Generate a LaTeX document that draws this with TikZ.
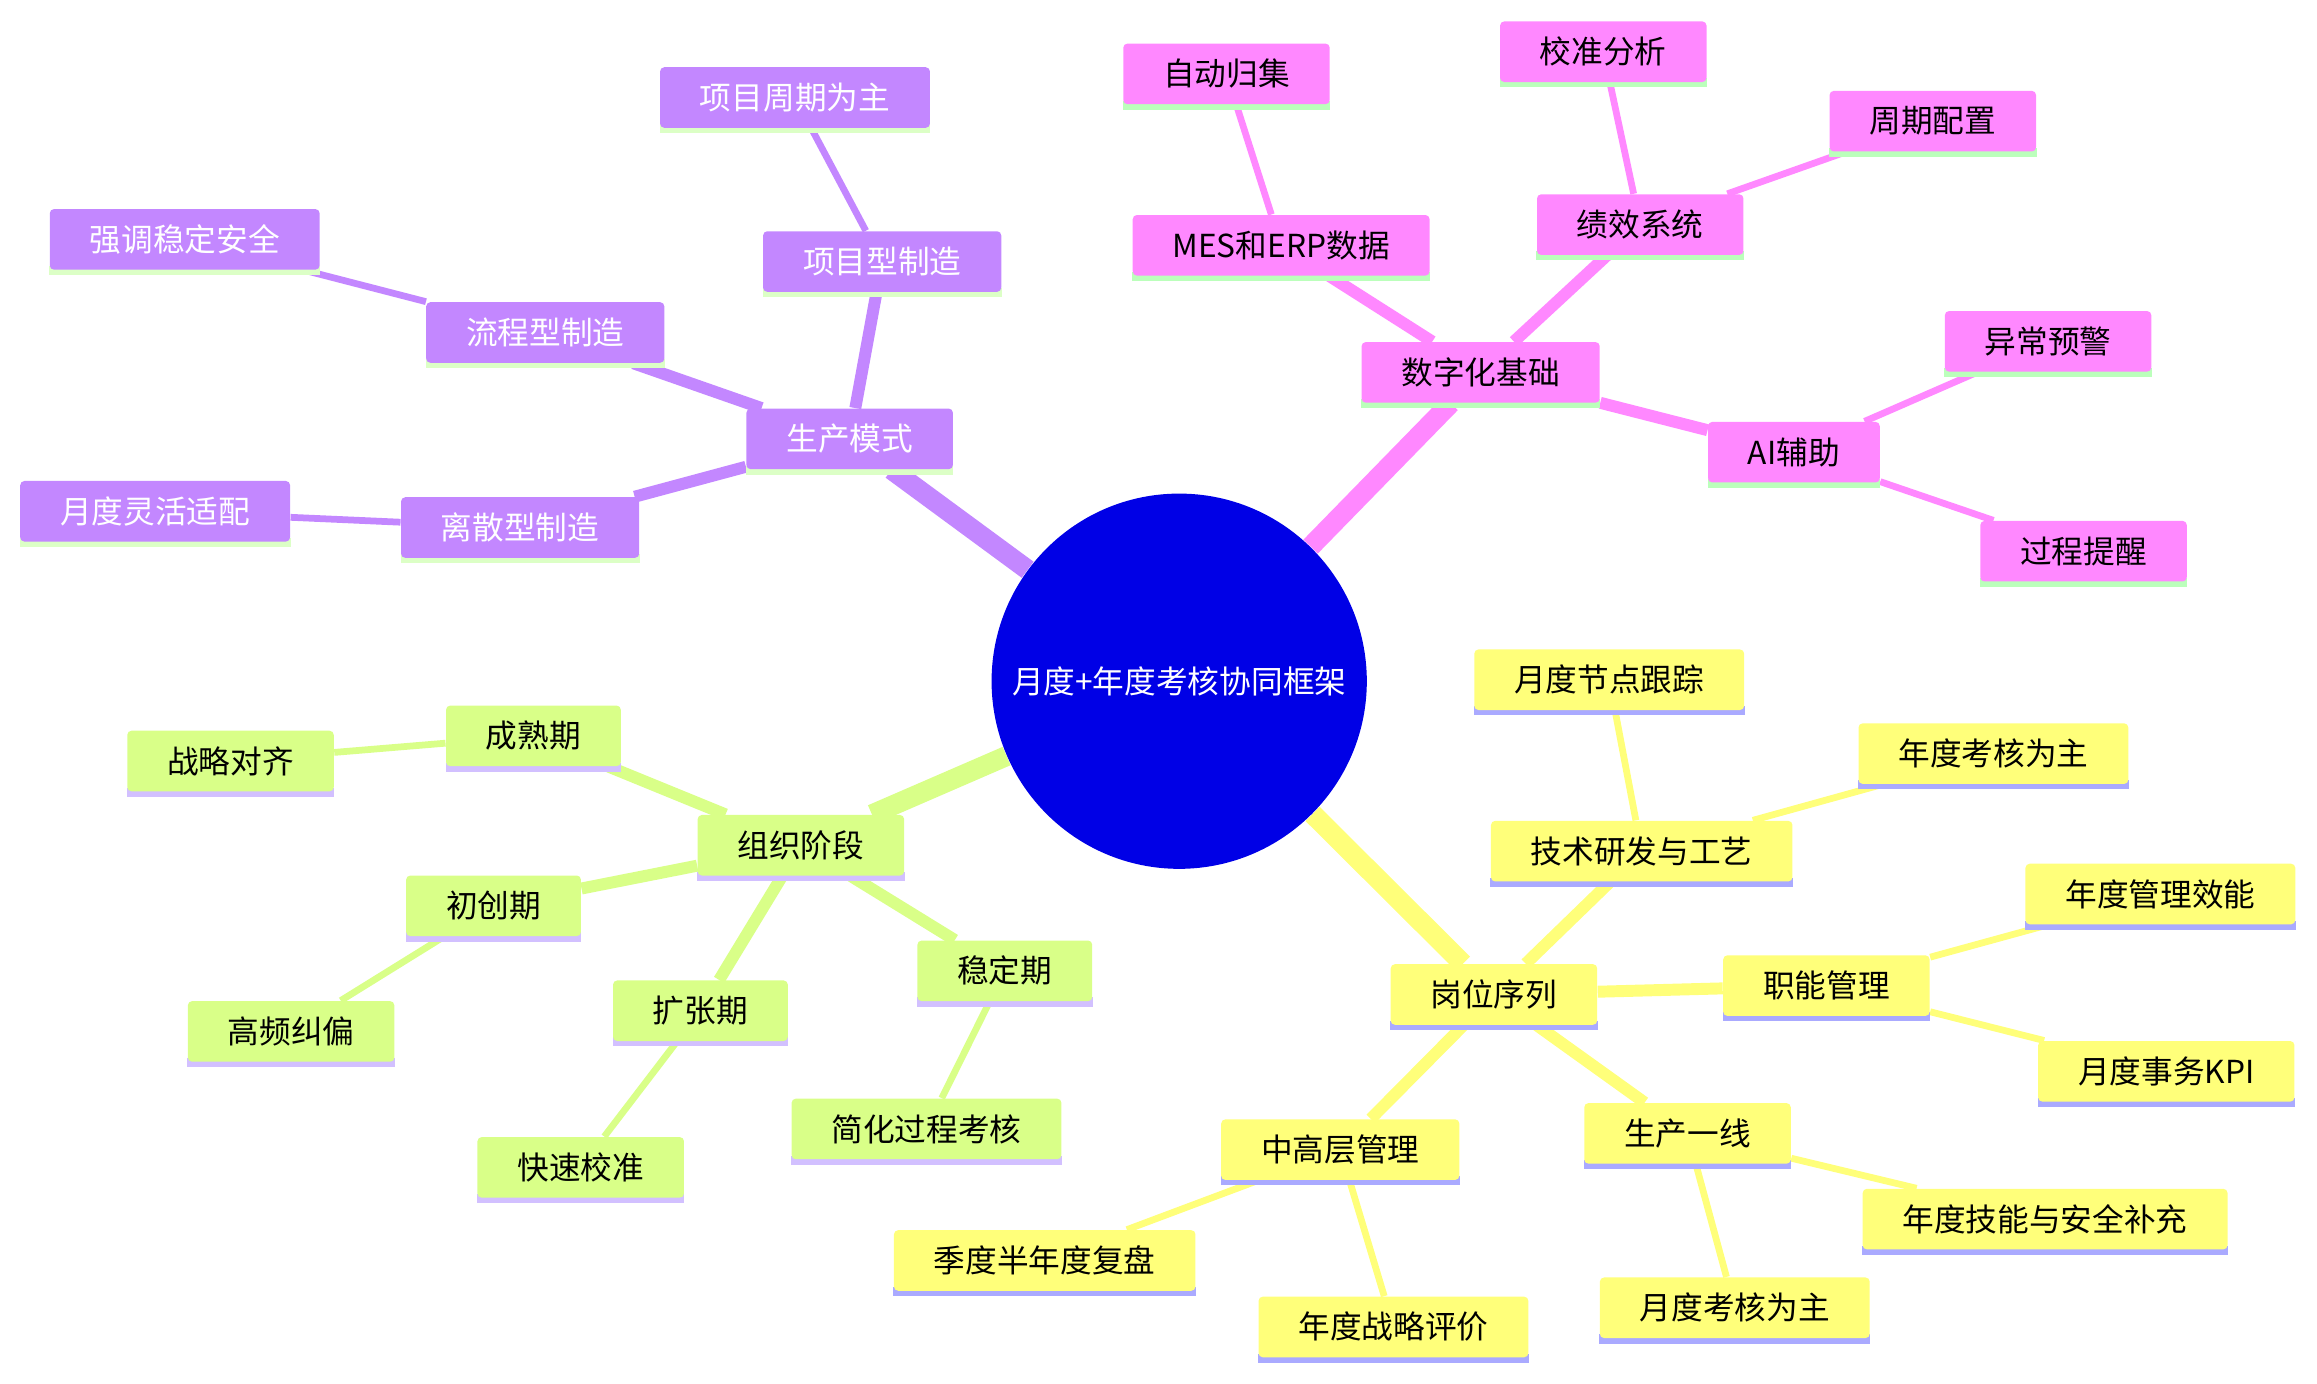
\documentclass[tikz,border=0pt]{standalone}
\usepackage{fontspec}
\setmainfont{Noto Sans CJK SC}
\usepackage{xcolor}
\usetikzlibrary{backgrounds}

\definecolor{purp}{HTML}{C387FF}
\definecolor{purpline}{HTML}{DCFFC6}
\definecolor{pinkm}{HTML}{FF88FF}
\definecolor{pinkline}{HTML}{BBFFBB}
\definecolor{yelm}{HTML}{FFFF7A}
\definecolor{yelline}{HTML}{AAAAFF}
\definecolor{grnm}{HTML}{D9FF88}
\definecolor{grnline}{HTML}{D2C0FF}
\definecolor{rootblue}{HTML}{0000E6}

\begin{document}
\begin{tikzpicture}[x=0.02cm, y=-0.02cm,
    mbox/.style={rounded corners=1.6pt, minimum height=0.82cm, inner xsep=0.54cm, inner ysep=0pt,
      font=\fontsize{12.2}{14}\selectfont,
      append after command={\pgfextra{\let\boxnode=\tikzlastnode
        \fill[#1] ([yshift=-1.9pt]\boxnode.south west) rectangle ([yshift=1.6pt]\boxnode.south east);}}},
    pbox/.style={mbox=purpline, fill=purp, text=white},
    kbox/.style={mbox=pinkline, fill=pinkm, text=black},
    ybox/.style={mbox=yelline, fill=yelm, text=black},
    gbox/.style={mbox=grnline, fill=grnm, text=black},
    trunk/.style={draw=#1, line width=7.7pt},
    limb/.style={draw=#1, line width=4.6pt},
    twig/.style={draw=#1, line width=2.6pt}]

\useasboundingbox (0,0) rectangle (1568,936);

  % Root
\node[circle, fill=rootblue, text=white, minimum size=5.08cm, inner sep=0pt, font=\fontsize{12.2}{14}\selectfont] (root) at (798,461) {月度+年度考核协同框架};

  % Production mode
\node[pbox] (prod) at (575,297) {生产模式}; \node[pbox] (proj) at (597,177) {项目型制造}; \node[pbox] (projmain) at (538,66) {项目周期为主}; \node[pbox] (flow) at (369,225) {流程型制造}; \node[pbox] (flowsafe) at (125,162) {强调稳定安全}; \node[pbox] (disc) at (352,357) {离散型制造}; \node[pbox] (discflex) at (105,346) {月度灵活适配};

  % Digital base
\node[kbox] (digi) at (1002,252) {数字化基础}; \node[kbox] (mes) at (867,166) {MES和ERP数据}; \node[kbox] (autocol) at (830,50) {自动归集}; \node[kbox] (perf) at (1110,152) {绩效系统}; \node[kbox] (calib) at (1085,35) {校准分析}; \node[kbox] (cycle) at (1308,82) {周期配置}; \node[kbox] (ai) at (1214,306) {AI辅助}; \node[kbox] (alert) at (1386,231) {异常预警}; \node[kbox] (remind) at (1410,373) {过程提醒};

  % Post sequence
\node[ybox] (post) at (1011,673) {岗位序列}; \node[ybox] (tech) at (1111,576) {技术研发与工艺}; \node[ybox] (technode) at (1089,460) {月度节点跟踪}; \node[ybox] (techyear) at (1349,510) {年度考核为主}; \node[ybox] (func) at (1236,667) {职能管理}; \node[ybox] (funceff) at (1462,605) {年度管理效能}; \node[ybox] (funckpi) at (1466,725) {月度事务KPI}; \node[ybox] (mgmt) at (907,778) {中高层管理}; \node[ybox] (mgmtrev) at (707,853) {季度半年度复盘}; \node[ybox] (mgmtstrat) at (943,898) {年度战略评价}; \node[ybox] (front) at (1142,767) {生产一线}; \node[ybox] (frontyear) at (1384,825) {年度技能与安全补充}; \node[ybox] (frontmonth) at (1174,885) {月度考核为主};

  % Organisation stage
\node[gbox] (org) at (542,572) {组织阶段}; \node[gbox] (mature) at (361,498) {成熟期}; \node[gbox] (matalign) at (156,515) {战略对齐}; \node[gbox] (start) at (334,613) {初创期}; \node[gbox] (startfix) at (197,698) {高频纠偏}; \node[gbox] (expand) at (474,684) {扩张期}; \node[gbox] (expcal) at (393,790) {快速校准}; \node[gbox] (stable) at (680,657) {稳定期}; \node[gbox] (stabsimp) at (627,764) {简化过程考核};

  % Branches behind the boxes
\begin{scope}[on background layer]
\draw[trunk=purp] (root) -- (prod); \draw[limb=purp] (prod) -- (proj); \draw[limb=purp] (prod) -- (flow); \draw[limb=purp] (prod) -- (disc); \draw[twig=purp] (proj) -- (projmain); \draw[twig=purp] (flow) -- (flowsafe); \draw[twig=purp] (disc) -- (discflex);
\draw[trunk=pinkm] (root) -- (digi); \draw[limb=pinkm] (digi) -- (mes); \draw[limb=pinkm] (digi) -- (perf); \draw[limb=pinkm] (digi) -- (ai); \draw[twig=pinkm] (mes) -- (autocol); \draw[twig=pinkm] (perf) -- (calib); \draw[twig=pinkm] (perf) -- (cycle); \draw[twig=pinkm] (ai) -- (alert); \draw[twig=pinkm] (ai) -- (remind);
\draw[trunk=yelm] (root) -- (post); \draw[limb=yelm] (post) -- (tech); \draw[limb=yelm] (post) -- (func); \draw[limb=yelm] (post) -- (mgmt); \draw[limb=yelm] (post) -- (front); \draw[twig=yelm] (tech) -- (technode); \draw[twig=yelm] (tech) -- (techyear); \draw[twig=yelm] (func) -- (funceff); \draw[twig=yelm] (func) -- (funckpi); \draw[twig=yelm] (mgmt) -- (mgmtrev); \draw[twig=yelm] (mgmt) -- (mgmtstrat); \draw[twig=yelm] (front) -- (frontyear); \draw[twig=yelm] (front) -- (frontmonth);
\draw[trunk=grnm] (root) -- (org); \draw[limb=grnm] (org) -- (mature); \draw[limb=grnm] (org) -- (start); \draw[limb=grnm] (org) -- (expand); \draw[limb=grnm] (org) -- (stable); \draw[twig=grnm] (mature) -- (matalign); \draw[twig=grnm] (start) -- (startfix); \draw[twig=grnm] (expand) -- (expcal); \draw[twig=grnm] (stable) -- (stabsimp);
\end{scope}

\end{tikzpicture}
\end{document}
